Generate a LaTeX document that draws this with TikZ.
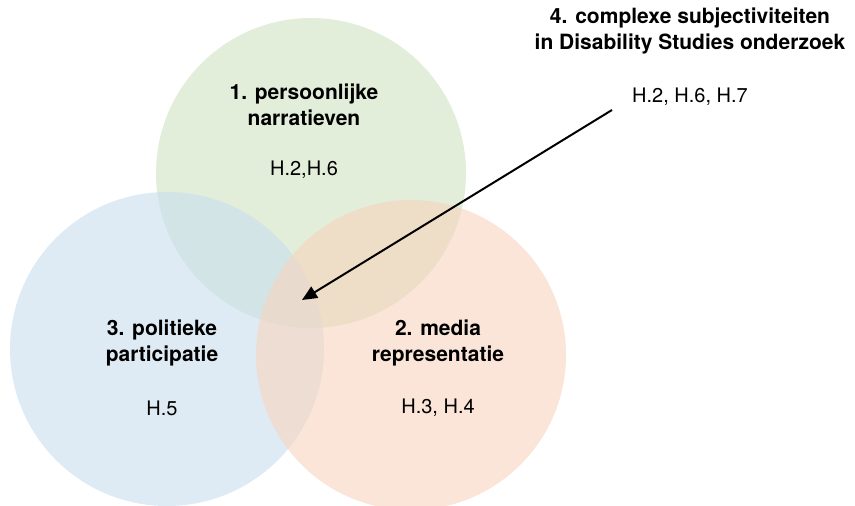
\documentclass[tikz,border=0pt]{standalone}
\usepackage{fontspec}
\setmainfont{TeX Gyre Heros}
\usetikzlibrary{arrows.meta,positioning}

\definecolor{narrgreen}{RGB}{207,227,193}
\definecolor{partblue}{RGB}{200,222,238}
\definecolor{mediaorange}{RGB}{247,212,190}

\begin{document}
\begin{tikzpicture}[
  x=1pt, y=-1pt, >={Triangle[length=15pt,width=13pt]},
  every node/.style={font=\fontsize{20}{26.5}\selectfont},
  venn/.style={circle, inner sep=0pt, fill opacity=0.6},
  title/.style={font=\fontsize{21}{26.5}\selectfont\bfseries, align=center},
  chap/.style={align=center}
]
  \useasboundingbox (0,0) rectangle (855,506);

  % the three themes
  \node[venn, fill=narrgreen, minimum size=310pt] (narr) at (311,173) {};
  \node[venn, fill=partblue, minimum size=314pt] (part) at (167,349) {};
  \node[venn, fill=mediaorange, minimum size=310pt] (media) at (411,355) {};

  \node[title] (narrtitle) at (304,105) {1. persoonlijke\\narratieven};
  \node[chap] (narrchap) at (304,170) {H.2,H.6};
  \node[title] (parttitle) at (162,343) {3. politieke\\participatie};
  \node[chap] (partchap) at (162,408) {H.5};
  \node[title] (mediatitle) at (438,343) {2. media\\representatie};
  \node[chap] (mediachap) at (438,408) {H.3, H.4};

  % overlap of all three
  \node[title] (cplxtitle) at (690,31) {4. complexe subjectiviteiten\\in Disability Studies onderzoek};
  \node[chap] (cplxchap) at (690,97) {H.2, H.6, H.7};

  \coordinate (start) at (612,110);
  \coordinate (core) at (302,300);
  \draw[->, line width=2pt] (start) -- (core);
\end{tikzpicture}
\end{document}
